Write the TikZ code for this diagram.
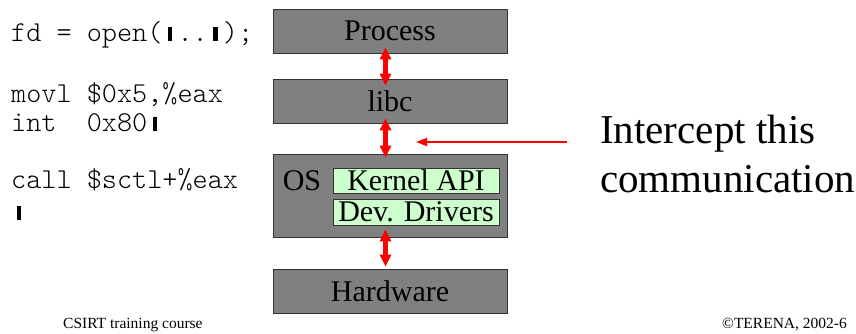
\documentclass[tikz,border=0pt]{standalone}
\usepackage{fontspec}
\setmainfont{Liberation Serif}
\newfontfamily\codefont{lmmonolt10-regular.otf}
\usetikzlibrary{arrows.meta}

\definecolor{layergray}{RGB}{128,128,128}
\definecolor{apigreen}{RGB}{204,255,204}
\definecolor{flowred}{RGB}{255,0,0}

% a solid block standing in one monospaced character cell
\newcommand{\cellblk}{\makebox[0.525em]{\rule{4.5pt}{14pt}}}

\tikzset{
  layer/.style={draw=black!80, line width=0.8pt, fill=layergray,
    minimum width=234pt, inner sep=0pt, font=\fontsize{30}{36}\selectfont},
  sublayer/.style={draw=black!80, line width=0.8pt, fill=apigreen,
    minimum width=166pt, inner sep=0pt, font=\fontsize{30}{36}\selectfont},
  codeline/.style={anchor=base west, inner sep=0pt,
    font=\codefont\fontsize{28.8}{34}\selectfont},
  notetext/.style={anchor=base west, inner sep=0pt, font=\fontsize{41}{49}\selectfont},
  footer/.style={inner sep=0pt, font=\fontsize{15.5}{18}\selectfont},
  linkarrow/.style={flowred, line width=4.5pt,
    {Triangle[width=11pt,length=12pt]}-{Triangle[width=11pt,length=12pt]}},
  pointarrow/.style={flowred, line width=2pt, -{Triangle[width=8pt,length=11pt]}}
}

\begin{document}
\begin{tikzpicture}[x=1pt, y=-1pt]
  \useasboundingbox (0,0) rectangle (856,333);

  % code on the left
  \node[codeline] (c1) at (11,41)  {fd = open(\cellblk..\cellblk);};
  \node[codeline] (c2) at (11,102) {movl \$0x5,\%eax};
  \node[codeline] (c3) at (11,131) {int\ \ 0x80\cellblk};
  \node[codeline] (c4) at (11,188) {call \$sctl+\%eax};
  \node[codeline] (c5) at (11,220) {\cellblk};

  % layer stack
  \node[layer, minimum height=44pt] (proc) at (390,31)    {Process};
  \node[layer, minimum height=44pt] (libc) at (390,101)   {libc};
  \node[layer, minimum height=83pt] (os)   at (390,195.5) {};
  \node[layer, minimum height=44pt] (hw)   at (390,291)   {Hardware};

  \node[anchor=base, inner sep=0pt, font=\fontsize{30}{36}\selectfont] (oslbl) at (302,190) {OS};
  \node[sublayer, minimum height=25pt] (kapi) at (416,180.5) {Kernel API};
  \node[sublayer, minimum height=26pt] (drv)  at (416,212)   {Dev. Drivers};

  % links between layers; the tips reach a little into the boxes
  \coordinate (ax) at (385.5,0);
  \draw[linkarrow, shorten <=-6pt, shorten >=-7pt] (proc.south -| ax) -- (libc.north -| ax);
  \draw[linkarrow, shorten <=-5pt, shorten >=-4pt] (libc.south -| ax) -- (os.north -| ax);
  \draw[linkarrow, shorten <=-8pt, shorten >=2pt]  (os.south -| ax) -- (hw.north -| ax);

  % note pointing at the libc/OS boundary
  \node[notetext] (note1) at (600,143) {Intercept this};
  \node[notetext] (note2) at (600,192) {communication};
  \coordinate (ptail) at (567,142);
  \coordinate (phead) at (416,142);
  \draw[pointarrow] (ptail) -- (phead);

  % footer
  \node[footer, anchor=base west] (fl) at (63,328)  {CSIRT training course};
  \node[footer, anchor=base east] (fr) at (847,328) {©TERENA, 2002-6};
\end{tikzpicture}
\end{document}
